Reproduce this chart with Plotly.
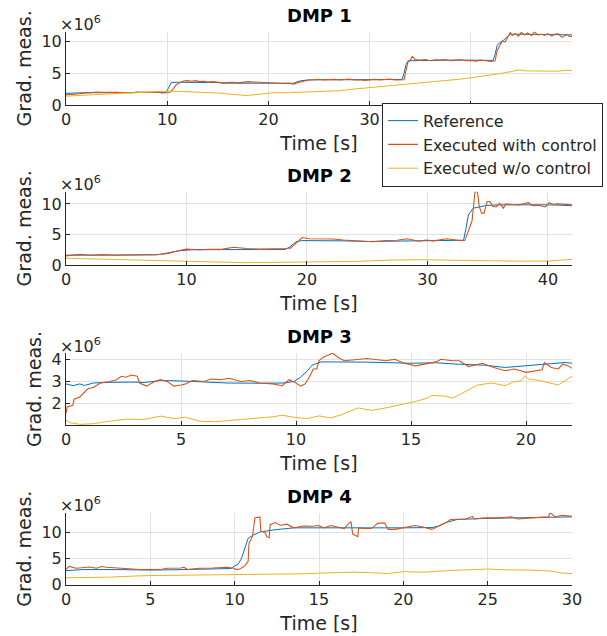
import plotly.graph_objects as go

# ---------------- data ----------------
series_names = ["Reference", "Executed with control", "Executed w/o control"]
series_colors = ["#0072BD", "#D95319", "#EDB120"]
panel_titles = ["DMP 1", "DMP 2", "DMP 3", "DMP 4"]

# DMP 1  (time [s], value x1e6)
dmp1_ref = [(0, 1.85), (0.5, 1.9), (2, 1.95), (4, 1.95), (6, 1.95), (8, 2.0), (9.9, 2.0), (10.1, 2.6),
            (10.4, 3.55), (11, 3.6), (13, 3.6), (15, 3.55), (15.5, 3.45), (18, 3.45), (20, 3.4), (22.5, 3.45),
            (22.8, 3.65), (23.1, 3.8), (23.8, 3.95), (25, 4.0), (28, 4.0), (30, 4.05), (33.2, 4.05), (33.4, 5.0),
            (33.6, 6.4), (33.8, 7.0), (35, 7.05), (38, 7.1), (40, 7.1), (42.2, 7.05), (42.4, 8.0), (42.6, 9.4),
            (42.8, 9.8), (43.2, 10.2), (43.6, 10.8), (43.9, 11.2), (45, 11.2), (48, 11.2), (50, 11.1)]
dmp1_exec = [(0, 1.6), (0.3, 1.7), (0.6, 1.65), (1, 1.75), (1.5, 1.8), (2, 1.9), (2.5, 1.95), (3, 2.05),
             (3.5, 2.0), (4, 1.95), (4.5, 2.0), (5, 2.0), (5.5, 1.95), (6, 2.0), (6.5, 1.95), (7, 2.05),
             (7.5, 2.0), (8, 1.95), (8.5, 2.0), (9, 2.05), (9.5, 1.9), (10, 1.95), (10.3, 2.05), (10.5, 2.4),
             (10.7, 2.8), (10.9, 3.2), (11.2, 3.5), (11.6, 3.8), (12, 3.85), (12.4, 3.75), (12.8, 3.85),
             (13.2, 3.7), (13.6, 3.75), (14, 3.65), (14.5, 3.7), (15, 3.55), (15.5, 3.5), (16, 3.55),
             (16.5, 3.6), (17, 3.5), (17.5, 3.6), (18, 3.7), (18.5, 3.65), (19, 3.6), (19.5, 3.55), (20, 3.45),
             (20.5, 3.5), (21, 3.45), (21.5, 3.4), (22, 3.45), (22.5, 3.3), (22.8, 3.5), (23.2, 3.65),
             (23.6, 3.8), (24, 3.95), (24.5, 4.0), (25, 4.05), (25.5, 3.95), (26, 4.0), (26.5, 4.05),
             (27, 3.95), (27.5, 4.0), (28, 4.1), (28.5, 3.95), (29, 4.0), (29.5, 3.9), (30, 4.0), (30.5, 4.05),
             (31, 3.95), (31.5, 4.0), (32, 4.1), (32.5, 3.95), (33, 4.0), (33.4, 4.0), (33.6, 5.5), (33.8, 6.9),
             (34.0, 7.0), (34.2, 7.7), (34.5, 7.2), (35, 7.1), (35.5, 7.2), (36, 7.0), (36.5, 7.15), (37, 7.1),
             (37.5, 7.2), (38, 7.0), (38.5, 7.1), (39, 7.15), (39.5, 7.0), (40, 7.05), (40.5, 6.95), (41, 7.1),
             (41.5, 7.0), (42, 6.9), (42.4, 7.0), (42.6, 8.6), (42.9, 9.5), (43.1, 10.1), (43.4, 10.0),
             (43.6, 10.6), (43.9, 11.5), (44.1, 11.0), (44.4, 11.3), (44.7, 10.9), (45, 11.5), (45.3, 11.1),
             (45.6, 11.4), (46, 11.0), (46.3, 11.6), (46.6, 11.1), (47, 11.2), (47.3, 11.0), (47.6, 11.3),
             (48, 10.9), (48.3, 11.2), (48.6, 11.3), (49, 10.7), (49.2, 10.9), (49.5, 11.1), (49.8, 10.8),
             (50, 10.9)]
dmp1_noctrl = [(0, 1.4), (1, 1.5), (2, 1.6), (3, 1.7), (4, 1.75), (5, 1.85), (6, 1.9), (7, 1.95), (8, 2.05),
               (9, 2.15), (10, 2.2), (11, 2.15), (12, 2.1), (13, 2.05), (14, 1.95), (15, 1.9), (16, 1.75),
               (17, 1.55), (17.8, 1.5), (18.5, 1.6), (19.5, 1.8), (20.5, 1.95), (22, 1.95), (23, 2.0), (24, 2.0),
               (25, 2.1), (26, 2.15), (27, 2.25), (28, 2.45), (29, 2.6), (30, 2.75), (31, 2.85), (32, 3.0),
               (33, 3.1), (34, 3.3), (35, 3.45), (36, 3.6), (37, 3.8), (38, 3.9), (39, 4.1), (40, 4.3), (41, 4.5),
               (42, 4.7), (43, 5.0), (44, 5.3), (44.8, 5.55), (45.5, 5.4), (46.5, 5.35), (47.5, 5.4),
               (48.5, 5.35), (49.5, 5.5), (50, 5.45)]

# DMP 2
dmp2_ref = [(0, 1.6), (2, 1.6), (4, 1.6), (6, 1.6), (7.5, 1.65), (8.5, 2.0), (9.5, 2.35), (10.5, 2.5), (12, 2.5),
            (14, 2.55), (16, 2.5), (18.2, 2.55), (18.6, 3.0), (19.1, 3.8), (19.6, 4.0), (21, 4.0), (23, 3.95),
            (25, 3.85), (27, 3.9), (29, 4.0), (31, 4.05), (33, 4.05), (33.2, 6.0), (33.4, 8.2), (33.8, 9.3),
            (34.9, 9.75), (36, 9.85), (38, 9.9), (40, 9.85), (41, 9.8), (42, 9.7)]
dmp2_exec = [(0, 1.5), (0.5, 1.6), (1.2, 1.75), (2, 1.6), (3, 1.7), (4, 1.6), (5, 1.65), (6, 1.6), (7, 1.7),
             (8, 1.75), (8.5, 1.9), (9.2, 2.3), (10, 2.6), (11, 2.5), (12, 2.55), (13, 2.6), (13.9, 2.9),
             (14.5, 2.75), (15, 2.7), (16, 2.6), (17, 2.6), (18, 2.6), (18.6, 2.7), (18.9, 3.2), (19.4, 4.1),
             (19.6, 4.5), (20.2, 4.3), (20.6, 4.3), (21.5, 4.2), (22.2, 4.25), (23, 4.1), (24.4, 4.0),
             (25.5, 3.8), (26.6, 4.0), (27.5, 4.05), (28.3, 4.3), (29.3, 3.9), (29.9, 4.1), (30.5, 3.95),
             (31.6, 4.3), (32.2, 4.1), (32.7, 4.0), (33.1, 4.0), (33.4, 5.7), (33.7, 7.2), (33.95, 12.0),
             (34.15, 12.0), (34.3, 9.6), (34.5, 8.5), (34.7, 8.5), (34.95, 10.4), (35.2, 10.4), (35.4, 9.6),
             (35.7, 9.5), (36, 10.1), (36.3, 9.3), (36.5, 10.0), (37, 9.9), (37.6, 9.85), (38.4, 10.2),
             (38.7, 9.7), (39.2, 9.8), (39.8, 9.5), (40.1, 10.2), (40.5, 9.9), (40.8, 10.0), (41.5, 9.9),
             (42, 9.85)]
dmp2_noctrl = [(0, 1.1), (2, 1.0), (4, 0.9), (5, 0.82), (7, 0.75), (10, 0.6), (12, 0.5), (14.7, 0.38),
               (17, 0.42), (20, 0.5), (22, 0.55), (24.4, 0.6), (27.1, 0.82), (29.9, 0.87), (32.6, 0.77),
               (35.4, 0.65), (38, 0.62), (40, 0.65), (41.2, 0.8), (42, 0.93)]

# DMP 3
dmp3_ref = [(0, 2.89), (0.3, 2.81), (0.6, 2.89), (0.8, 2.82), (1.2, 2.93), (1.9, 2.96), (3.0, 2.97), (3.4, 2.95),
            (4.1, 3.04), (4.5, 3.04), (5.5, 3.0), (7, 2.93), (8.5, 2.92), (9.5, 2.93), (9.9, 3.0), (10.2, 3.19),
            (10.5, 3.48), (10.7, 3.73), (11.1, 3.88), (13, 3.87), (15, 3.82), (16.1, 3.84), (17, 3.78),
            (18.2, 3.73), (19.1, 3.63), (20, 3.7), (20.8, 3.78), (21.7, 3.85), (22, 3.82)]
dmp3_exec = [(0, 1.56), (0.05, 1.85), (0.3, 1.93), (0.35, 2.2), (0.6, 2.3), (0.75, 2.44), (0.95, 2.67),
             (1.2, 2.74), (1.5, 2.93), (1.9, 3.0), (2.2, 3.08), (2.4, 3.23), (2.6, 3.19), (2.85, 3.29),
             (3.1, 3.23), (3.2, 2.93), (3.5, 2.79), (3.8, 2.96), (4.1, 3.08), (4.4, 3.0), (4.7, 2.79),
             (5.0, 2.84), (5.2, 2.89), (5.5, 3.04), (6.0, 3.0), (6.3, 3.11), (6.7, 3.08), (7.1, 3.14),
             (7.6, 3.0), (8.0, 3.04), (8.4, 2.93), (9.0, 2.89), (9.4, 2.81), (9.7, 3.08), (10.0, 2.93),
             (10.2, 2.79), (10.4, 2.89), (10.6, 3.23), (10.75, 3.56), (10.9, 3.56), (11.0, 3.93), (11.15, 4.07),
             (11.3, 4.15), (11.6, 4.27), (11.8, 4.1), (12.1, 3.93), (12.55, 3.97), (13.1, 4.03), (13.9, 3.93),
             (14.3, 4.0), (14.7, 3.82), (15.2, 3.7), (15.6, 3.78), (16.1, 3.88), (16.3, 4.0), (16.8, 3.93),
             (17.1, 3.93), (17.5, 3.67), (18.1, 3.82), (18.4, 3.7), (18.6, 3.63), (19.1, 3.48), (19.5, 3.56),
             (20.0, 3.41), (20.4, 3.48), (20.7, 3.53), (20.8, 3.85), (21.1, 3.63), (21.4, 3.56), (21.6, 3.78),
             (21.85, 3.7), (22, 3.59)]
dmp3_noctrl = [(0, 1.26), (0.17, 1.14), (0.6, 1.07), (1.2, 1.1), (1.9, 1.21), (2.6, 1.3), (3.4, 1.29),
               (4.1, 1.44), (4.7, 1.33), (5.2, 1.39), (5.8, 1.21), (6.5, 1.19), (7.3, 1.26), (8.1, 1.33),
               (9.0, 1.41), (9.4, 1.48), (9.9, 1.39), (10.5, 1.33), (11.0, 1.45), (11.5, 1.36), (12.0, 1.51),
               (12.7, 1.81), (13.3, 1.7), (13.9, 1.81), (14.6, 1.96), (15.2, 2.1), (15.7, 2.25), (15.9, 2.37),
               (16.5, 2.34), (16.8, 2.25), (17.1, 2.4), (17.6, 2.67), (17.9, 2.84), (18.5, 2.93), (19.1, 2.81),
               (19.4, 2.96), (19.8, 3.04), (19.96, 3.26), (20.1, 3.11), (20.6, 3.04), (21.1, 2.93),
               (21.4, 2.84), (21.7, 3.04), (22, 3.23)]

# DMP 4
dmp4_ref = [(0, 2.7), (0.3, 2.8), (1, 2.9), (3, 2.9), (5, 2.8), (7, 2.9), (9.5, 3.0), (9.8, 3.1), (10, 3.6),
            (10.2, 3.9), (10.4, 5.0), (10.6, 6.8), (10.8, 8.9), (11.1, 9.5), (11.5, 10.1), (12.3, 10.5),
            (13.5, 10.9), (15, 10.9), (17, 10.9), (19.5, 10.76), (20, 10.9), (21.7, 10.95), (22.1, 11.25),
            (22.5, 11.9), (23.2, 12.5), (24.8, 12.7), (26.8, 12.85), (28.8, 13.0), (30, 13.0)]
dmp4_exec = [(0, 3.0), (0.2, 3.5), (0.6, 3.15), (1.4, 3.4), (1.8, 3.15), (2.1, 3.5), (2.4, 3.35), (3.2, 3.15),
             (3.6, 3.0), (4.4, 2.9), (5.6, 2.9), (6.0, 3.15), (6.8, 3.2), (7.0, 3.35), (7.2, 2.9), (7.9, 3.15),
             (8.7, 3.2), (9.5, 3.35), (9.9, 3.2), (10.1, 2.9), (10.3, 3.0), (10.6, 3.6), (10.8, 4.5),
             (10.85, 7.9), (11.05, 9.2), (11.2, 12.8), (11.5, 13.0), (11.55, 10.3), (11.8, 10.0), (11.9, 9.2),
             (12.05, 9.0), (12.1, 11.5), (12.4, 11.9), (12.7, 11.4), (13.1, 11.6), (13.5, 10.9), (14.1, 11.25),
             (14.6, 11.2), (14.94, 11.35), (15.3, 10.9), (15.7, 11.35), (16.1, 11.1), (16.5, 10.76),
             (16.8, 11.9), (16.9, 12.0), (17.0, 9.7), (17.3, 9.2), (17.35, 10.9), (17.7, 10.76), (18.1, 10.76),
             (18.5, 11.8), (18.9, 11.8), (19.1, 10.6), (19.5, 10.6), (20.0, 10.9), (20.5, 11.1), (20.7, 11.35),
             (21.1, 11.1), (21.7, 10.6), (22.1, 11.25), (22.5, 11.8), (22.8, 12.5), (23.7, 12.6), (24.1, 13.1),
             (24.2, 12.6), (24.8, 12.8), (25.6, 12.8), (26.4, 13.0), (26.8, 12.6), (27.6, 12.8), (28.6, 13.0),
             (28.7, 13.8), (29.0, 13.0), (29.4, 13.3), (30, 13.1)]
dmp4_noctrl = [(0, 1.33), (1, 1.35), (2.6, 1.45), (4, 1.65), (5, 1.76), (7, 1.82), (10, 1.9), (12, 1.95),
               (14.2, 2.1), (15, 2.22), (17, 2.4), (18, 2.3), (19.1, 2.15), (20, 2.5), (21.2, 2.4), (22.8, 2.73),
               (24, 2.9), (25, 3.0), (26, 2.85), (27.6, 2.8), (28.8, 2.6), (29.4, 2.22), (30, 2.15)]

panels_data = [
    (dmp1_ref, dmp1_exec, dmp1_noctrl),
    (dmp2_ref, dmp2_exec, dmp2_noctrl),
    (dmp3_ref, dmp3_exec, dmp3_noctrl),
    (dmp4_ref, dmp4_exec, dmp4_noctrl),
]
x_ranges = [[0, 50], [0, 42], [0, 22], [0, 30]]
y_ranges = [[0, 11.6], [0, 12], [1.04, 4.28], [0, 13.8]]
x_dticks = [10, 10, 5, 5]
y_ticks = [[0, 5, 10], [0, 5, 10], [2, 3, 4], [0, 5, 10]]

# ---------------- layout geometry (pixels) ----------------
W, H = 607, 636
left_px, right_px = 66, 572
axes_px = [(31.7, 105), (191.7, 265), (353, 425), (512.7, 584.7)]  # (top, bottom)

FONT = "DejaVu Sans"
TXT = "#262626"

fig = go.Figure()
for i, (data, xr, yr, dx, yt, (top, bot)) in enumerate(
        zip(panels_data, x_ranges, y_ranges, x_dticks, y_ticks, axes_px)):
    n = i + 1
    xa = "x" if n == 1 else f"x{n}"
    ya = "y" if n == 1 else f"y{n}"
    for k, ser in enumerate(data):
        fig.add_trace(go.Scatter(
            x=[p[0] for p in ser], y=[p[1] for p in ser], mode="lines",
            line=dict(color=series_colors[k], width=1.1 if k == 1 else 1),
            name=series_names[k], showlegend=(n == 1),
            xaxis=xa, yaxis=ya, hoverinfo="skip"))
    axis_common = dict(showline=True, linecolor=TXT, linewidth=1, ticks="inside", ticklen=4,
                       tickcolor=TXT, showgrid=True, gridcolor="#e2e2e2", gridwidth=1, zeroline=False,
                       tickfont=dict(family=FONT, size=16, color=TXT), mirror=False, automargin=False)
    fig.update_layout(**{
        ("xaxis" if n == 1 else f"xaxis{n}"): dict(
            axis_common, domain=[left_px / W, right_px / W], range=xr, dtick=dx, tick0=0,
            anchor=ya, title=dict(text="Time [s]", font=dict(family=FONT, size=19, color=TXT), standoff=8)),
        ("yaxis" if n == 1 else f"yaxis{n}"): dict(
            axis_common, domain=[1 - bot / H, 1 - top / H], range=yr, tickvals=yt,
            anchor=xa, title=dict(text="Grad. meas.", font=dict(family=FONT, size=19, color=TXT), standoff=4)),
    })
    fig.add_annotation(text=f"<b>{panel_titles[i]}</b>", xref="paper", yref="paper",
                       x=(left_px + right_px) / 2 / W, y=1 - (top - 16.7) / H,
                       xanchor="center", yanchor="middle", showarrow=False,
                       font=dict(family=FONT, size=18, color="#000000"))
    fig.add_annotation(text="×10<sup>6</sup>", xref="paper", yref="paper",
                       x=(left_px - 8) / W, y=1 - (top - 8) / H,
                       xanchor="left", yanchor="middle", showarrow=False,
                       font=dict(family=FONT, size=16, color=TXT))

fig.update_layout(
    width=W, height=H, margin=dict(l=0, r=0, t=0, b=0),
    paper_bgcolor="white", plot_bgcolor="white",
    font=dict(family=FONT, color=TXT),
    legend=dict(x=603 / W, y=1 - 102.7 / H, xanchor="right", yanchor="top",
                bgcolor="white", bordercolor=TXT, borderwidth=1,
                font=dict(family=FONT, size=16, color=TXT), itemwidth=30, tracegroupgap=0),
)
fig.write_html("out.html", config={"displayModeBar": False},
               post_script="document.body.style.margin='0px';document.body.style.overflow='hidden';")
